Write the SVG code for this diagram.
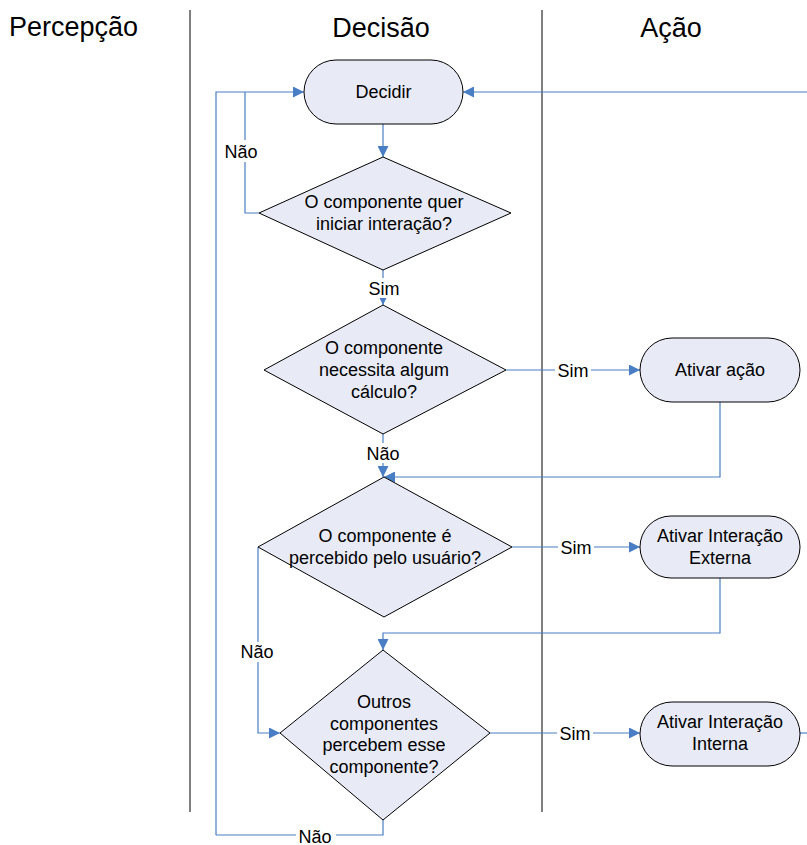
<svg xmlns="http://www.w3.org/2000/svg" width="807" height="845" viewBox="0 0 807 845">
<defs>
<marker id="arr" viewBox="0 0 10 10" refX="10" refY="5" markerWidth="11" markerHeight="11" markerUnits="userSpaceOnUse" orient="auto">
<path d="M0,0 L10,5 L0,10 z" fill="#4A7EC4"/>
</marker>
<style>
.lane{stroke:#000;stroke-width:1}
.hdr{font-family:"Liberation Sans",Arial,sans-serif;font-size:27px;fill:#000}
.shape{fill:#E8EBF6;stroke:#000;stroke-width:1}
.t{font-family:"Liberation Sans",Arial,sans-serif;font-size:18px;fill:#000;text-anchor:middle}
.c{fill:none;stroke:#4A7EC4;stroke-width:1.2}
.lbl{font-family:"Liberation Sans",Arial,sans-serif;font-size:18px;fill:#000;text-anchor:middle}
.bg{fill:#fff}
</style>
</defs>
<rect width="807" height="845" fill="#fff"/>
<g id="lanes">
<line class="lane" x1="190" y1="10" x2="190" y2="812"/>
<line class="lane" x1="542" y1="10" x2="542" y2="812"/>
<text class="hdr" x="9" y="36">Percepção</text>
<text class="hdr" x="381" y="37" text-anchor="middle">Decisão</text>
<text class="hdr" x="671" y="37" text-anchor="middle">Ação</text>
</g>
<g id="connectors">
<path class="c" d="M807,92 L463,92" marker-end="url(#arr)"/>
<path class="c" d="M383,124 L383,157" marker-end="url(#arr)"/>
<path class="c" d="M259,213 L245,213 L245,92"/>
<path class="c" d="M216,835 L216,92 L304,92" marker-end="url(#arr)"/>
<path class="c" d="M383,270 L383,305" marker-end="url(#arr)"/>
<path class="c" d="M506,370 L640,370" marker-end="url(#arr)"/>
<path class="c" d="M383,434 L383,477" marker-end="url(#arr)"/>
<path class="c" d="M720,402 L720,477 L384,477" marker-end="url(#arr)"/>
<path class="c" d="M512,547 L640,547" marker-end="url(#arr)"/>
<path class="c" d="M720,578 L720,633 L383,633 L383,650" marker-end="url(#arr)"/>
<path class="c" d="M258,547 L258,733 L280,733" marker-end="url(#arr)"/>
<path class="c" d="M490,733 L640,733" marker-end="url(#arr)"/>
<path class="c" d="M800,733 L807,733"/>
<path class="c" d="M383,820 L383,835 L216,835"/>
<rect class="bg" x="222" y="140" width="38" height="22"/>
<text class="lbl" x="241" y="158">Não</text>
<rect class="bg" x="366" y="278" width="36" height="20"/>
<text class="lbl" x="384" y="295">Sim</text>
<rect class="bg" x="555" y="361" width="36" height="19"/>
<text class="lbl" x="573" y="377">Sim</text>
<rect class="bg" x="363" y="443" width="40" height="20"/>
<text class="lbl" x="383" y="460">Não</text>
<rect class="bg" x="558" y="538" width="36" height="19"/>
<text class="lbl" x="576" y="554">Sim</text>
<rect class="bg" x="238" y="642" width="40" height="20"/>
<text class="lbl" x="257" y="658">Não</text>
<rect class="bg" x="557" y="724" width="36" height="19"/>
<text class="lbl" x="575" y="740">Sim</text>
<rect class="bg" x="296" y="828" width="40" height="17"/>
<text class="lbl" x="315" y="843">Não</text>
</g>
<g id="decidir">
<rect class="shape" x="304" y="60" width="159" height="64" rx="32" ry="32"/>
<text class="t" x="383.5" y="98">Decidir</text>
</g>
<g id="q1">
<polygon class="shape" points="383,157 511,213 383,270 259,213"/>
<text class="t" x="384" y="208">O componente quer</text>
<text class="t" x="384" y="230">iniciar interação?</text>
</g>
<g id="q2">
<polygon class="shape" points="383,305 506,370 383,434 264,370"/>
<text class="t" x="384" y="354">O componente</text>
<text class="t" x="384" y="376">necessita algum</text>
<text class="t" x="384" y="398">cálculo?</text>
</g>
<g id="ativar-acao">
<rect class="shape" x="640" y="338" width="160" height="64" rx="32" ry="32"/>
<text class="t" x="720" y="376">Ativar ação</text>
</g>
<g id="q3">
<polygon class="shape" points="384,477 512,547 384,617 258,547"/>
<text class="t" x="385" y="542">O componente é</text>
<text class="t" x="385" y="564">percebido pelo usuário?</text>
</g>
<g id="ativar-externa">
<rect class="shape" x="640" y="516" width="160" height="62" rx="31" ry="31"/>
<text class="t" x="720" y="542">Ativar Interação</text>
<text class="t" x="720" y="564">Externa</text>
</g>
<g id="q4">
<polygon class="shape" points="383,650 490,733 383,820 280,733"/>
<text class="t" x="384" y="708">Outros</text>
<text class="t" x="384" y="730">componentes</text>
<text class="t" x="384" y="751">percebem esse</text>
<text class="t" x="384" y="773">componente?</text>
</g>
<g id="ativar-interna">
<rect class="shape" x="640" y="702" width="160" height="64" rx="32" ry="32"/>
<text class="t" x="720" y="728">Ativar Interação</text>
<text class="t" x="720" y="750">Interna</text>
</g>
</svg>
